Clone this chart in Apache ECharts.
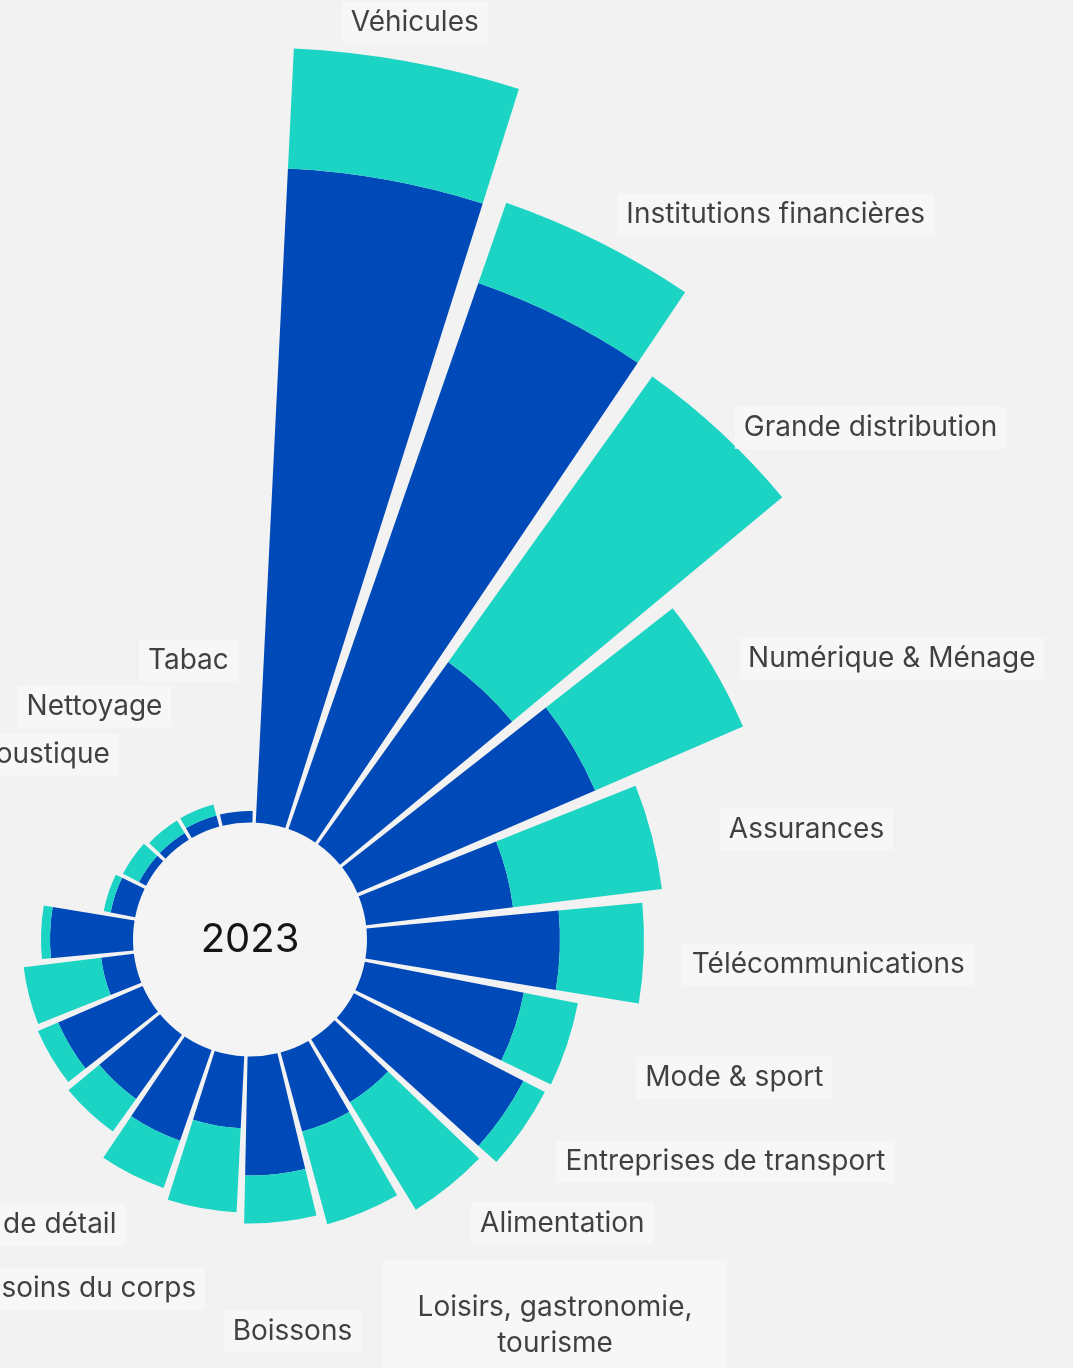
<!DOCTYPE html>
<html>
<head>
<meta charset="utf-8">
<script src="https://cdn.jsdelivr.net/npm/echarts@6/dist/echarts.min.js"></script>
<style>
html,body{margin:0;padding:0;background:#f2f2f2;}
#chart{width:1073px;height:1368px;}
</style>
</head>
<body>
<div id="chart"></div>
<script>
// ---- data (units are arbitrary, radial length) ----
const categories = [
  'Véhicules', 'Institutions financières', 'Grande distribution', 'Numérique & Ménage',
  'Assurances', 'Télécommunications', 'Mode & sport', 'Entreprises de transport',
  'Alimentation', 'Loisirs, gastronomie, tourisme', 'Boissons', 'Hygiène & soins du corps',
  'Commerce de détail', 'Énergie', 'Immobilier', 'Médias', 'Pharmacie & santé',
  'Services', 'Jeux & paris', 'Optique & acoustique', 'Nettoyage', 'Tabac'
];
const blueValues = [65.5, 57.8, 22.4, 25.9, 14.8, 19.3, 16.2, 19.1, 7.4, 8.2, 11.9, 7.2, 9.6, 7.9, 9.2, 3.3, 8.3, 2.5, 0.8, 0.8, 1.15, 1.15];
const tealValues = [12.0, 8.5, 35.1, 16.1, 15.0, 8.4, 5.5, 2.4, 12.6, 9.6, 4.8, 8.4, 5.0, 4.0, 2.2, 7.8, 0.9, 0.7, 1.8, 1.45, 1.15, 0];
const centerText = '2023';

// ---- layout / style ----
const BLUE = '#0049b8';
const TEAL = '#1cd4c4';
const START_ANGLE = 88;
const CENTER = [250, 939.5];
const INNER_R = 117;
const R_MAX = 100;
const OUTER_R = 1117;
const pxPerUnit = (OUTER_R - INNER_R) / R_MAX;
// radial distance (px) between bar end and its label anchor
const labelPad = [40, 42, 20, 32, 70, 39, 73, 41, 35, 52, 110, 82, 56, 200, 200, 200, 200, 200, 200, 98, 112, 152];
const FONT = 'Inter, "Noto Sans", sans-serif';

const n = categories.length;
const step = 360 / n;

const labelData = categories.map((name, i) => {
  const total = blueValues[i] + tealValues[i];
  const a = (90 - START_ANGLE) + (i + 0.5) * step;
  const s = Math.sin(a * Math.PI / 180);
  let position = 'inside', offset = [0, 0];
  if (s > 0.2) { position = 'right'; offset = [0, 10]; }
  else if (s < -0.1) { position = 'left'; offset = [18, 0]; }
  const item = {
    name: name,
    value: [total + labelPad[i] / pxPerUnit, name],
    label: { position: position, offset: offset }
  };
  if (name.length > 26) {
    const k = name.lastIndexOf(', ');
    item.label.formatter = '{w|' + name.slice(0, k + 1) + '}\n{w|' + name.slice(k + 2) + '}';
    item.label.padding = [30, 32, 20, 32];
    item.label.verticalAlign = 'top';
    item.label.offset = [0, 0];
  }
  return item;
});

const chart = echarts.init(document.getElementById('chart'), null, {renderer: 'canvas'});
chart.setOption({
  backgroundColor: '#f2f2f2',
  animation: false,
  polar: { center: CENTER, radius: [INNER_R, OUTER_R] },
  angleAxis: {
    type: 'category',
    data: categories,
    startAngle: START_ANGLE,
    clockwise: true,
    axisLine: {show: false}, axisTick: {show: false}, axisLabel: {show: false},
    splitLine: {show: false}
  },
  radiusAxis: {
    type: 'value', min: 0, max: R_MAX,
    axisLine: {show: false}, axisTick: {show: false}, axisLabel: {show: false},
    splitLine: {show: false}
  },
  graphic: [
    { type: 'circle', shape: {cx: CENTER[0], cy: CENTER[1], r: INNER_R}, style: {fill: '#f4f4f4'}, silent: true, z: 0 },
    { type: 'text', x: CENTER[0], y: CENTER[1], style: {text: centerText, fill: '#151515', font: '400 40px ' + FONT, textAlign: 'center', textVerticalAlign: 'middle'}, z: 10 }
  ],
  series: [
    {
      type: 'bar', coordinateSystem: 'polar', stack: 'total',
      data: blueValues, barCategoryGap: '10%',
      itemStyle: {color: BLUE}, silent: true
    },
    {
      type: 'bar', coordinateSystem: 'polar', stack: 'total',
      data: tealValues, barCategoryGap: '10%',
      itemStyle: {color: TEAL}, silent: true
    },
    {
      type: 'scatter', coordinateSystem: 'polar',
      symbolSize: 0, silent: true,
      data: labelData,
      label: {
        show: true,
        formatter: '{b}',
        distance: 0,
        color: '#111111',
        fontFamily: FONT,
        fontSize: 28,
        fontWeight: 400,
        lineHeight: 28,
        backgroundColor: '#f7f7f7',
        padding: [7, 9],
        rich: {
          w: { width: 280, align: 'center', fontSize: 28, fontWeight: 400, lineHeight: 36, color: '#111111', fontFamily: FONT }
        }
      }
    }
  ]
});
</script>
</body>
</html>
